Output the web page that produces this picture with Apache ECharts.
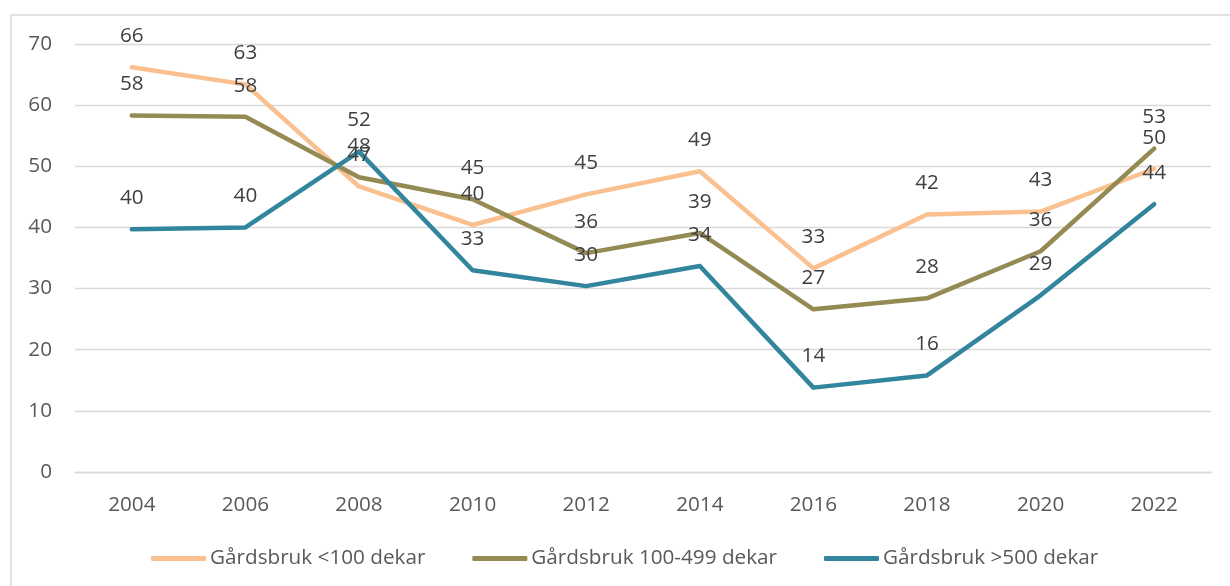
<!DOCTYPE html>
<html>
<head>
<meta charset="utf-8">
<script src="https://cdn.jsdelivr.net/npm/echarts@6/dist/echarts.min.js"></script>
<style>
html,body{margin:0;padding:0;background:#fff;}
#chart{width:1230px;height:586px;}
</style>
</head>
<body>
<div id="chart"></div>
<script>
const years = ['2004','2006','2008','2010','2012','2014','2016','2018','2020','2022'];
const small = [66.2, 63.4, 46.7, 40.4, 45.4, 49.2, 33.3, 42.1, 42.6, 49.6];
const medium = [58.3, 58.1, 48.2, 44.6, 35.8, 39.1, 26.6, 28.4, 36.1, 52.9];
const large = [39.7, 40.0, 52.4, 33.0, 30.4, 33.7, 13.8, 15.8, 28.9, 43.8];
const seriesNames = ['Gårdsbruk <100 dekar', 'Gårdsbruk 100-499 dekar', 'Gårdsbruk >500 dekar'];
const colors = ['#FAC090', '#948A54', '#31859C'];
const yTicks = {min: 0, max: 70, interval: 10};

const FONT = '"Open Sans", sans-serif';
const FS = 20.7;
const chart = echarts.init(document.getElementById('chart'), null, {renderer: 'canvas'});

function mk(name, data, color) {
  return {
    name: name,
    type: 'line',
    data: data,
    symbol: 'circle',
    symbolSize: 0.1,
    showSymbol: true,
    showAllSymbol: true,
    smooth: false,
    lineStyle: {color: color, width: 4.5, cap: 'round', join: 'round'},
    itemStyle: {color: color, opacity: 0},
    label: {
      show: true,
      position: 'top',
      distance: 20,
      color: '#404040',
      opacity: 1,
      fontFamily: FONT,
      fontSize: FS,
      lineHeight: 22,
      formatter: p => Math.round(p.value)
    },
    emphasis: {disabled: true},
    animation: false
  };
}

chart.setOption({
  animation: false,
  color: colors,
  textStyle: {fontFamily: FONT},
  graphic: [{
    type: 'rect',
    shape: {x: 11, y: 15, width: 1400, height: 800},
    style: {fill: 'none', stroke: '#D9D9D9', lineWidth: 1.5},
    silent: true,
    z: -1
  }],
  grid: {left: 75, right: 19, top: 44, bottom: 114, containLabel: false},
  legend: {
    bottom: 12,
    left: 146,
    itemWidth: 55,
    itemHeight: 5,
    itemGap: 47,
    icon: 'roundRect',
    textStyle: {color: '#595959', fontFamily: FONT, fontSize: FS, padding: [0, 0, 0, -1]},
    data: seriesNames.map((n, i) => ({name: n, itemStyle: {color: colors[i], opacity: 1}}))
  },
  xAxis: {
    type: 'category',
    data: years,
    boundaryGap: true,
    axisLine: {show: true, lineStyle: {color: '#D9D9D9', width: 1.3}},
    axisTick: {show: false},
    axisLabel: {color: '#595959', fontFamily: FONT, fontSize: FS, margin: 23}
  },
  yAxis: {
    type: 'value',
    min: yTicks.min,
    max: yTicks.max,
    interval: yTicks.interval,
    axisLine: {show: false},
    axisTick: {show: false},
    splitLine: {lineStyle: {color: '#D9D9D9', width: 1.3}},
    axisLabel: {color: '#595959', fontFamily: FONT, fontSize: FS, margin: 23}
  },
  series: [
    mk(seriesNames[0], small, colors[0]),
    mk(seriesNames[1], medium, colors[1]),
    mk(seriesNames[2], large, colors[2])
  ]
});
</script>
</body>
</html>
